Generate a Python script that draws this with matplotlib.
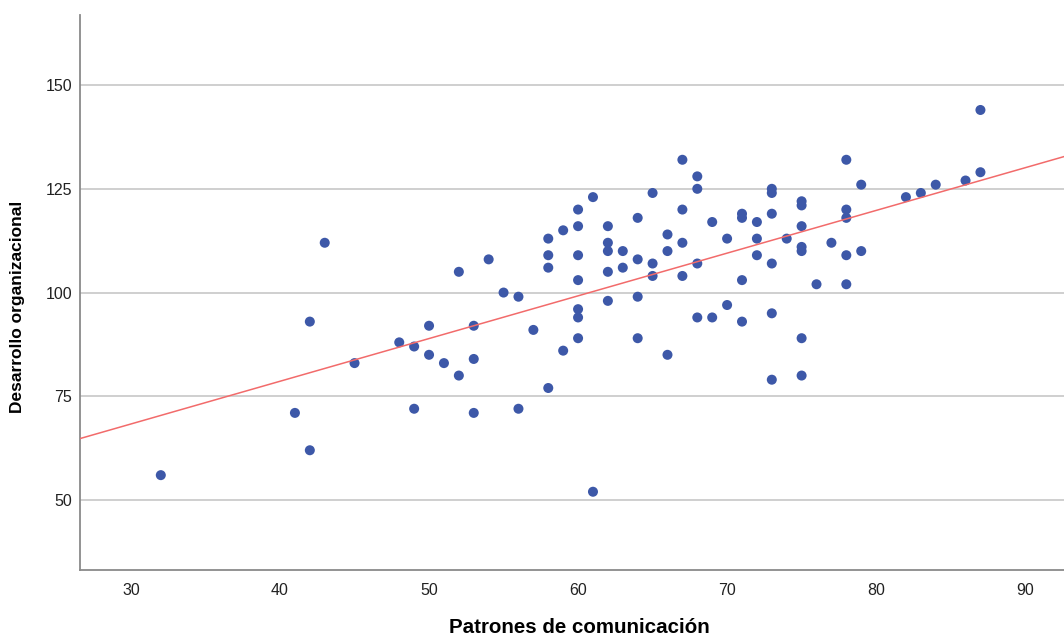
import matplotlib.pyplot as plt
import numpy as np

# Patrones de comunicación vs Desarrollo organizacional
patrones = [32, 41, 42, 42, 43, 45, 48, 49, 49, 50, 50, 51, 52, 52, 53, 53, 53,
            54, 55, 56, 56, 57, 58, 58, 58, 58, 59, 59,
            60, 60, 60, 60, 60, 60, 60, 61, 61,
            62, 62, 62, 62, 62, 63, 63, 64, 64, 64, 64, 65, 65, 65,
            66, 66, 66, 67, 67, 67, 67, 68, 68, 68, 68, 69, 69, 70, 70,
            71, 71, 71, 71, 72, 72, 72, 73, 73, 73, 73, 73, 73, 74,
            75, 75, 75, 75, 75, 75, 75, 76, 77, 78, 78, 78, 78, 78,
            79, 79, 82, 83, 84, 86, 87, 87]
desarrollo = [56, 71, 93, 62, 112, 83, 88, 87, 72, 92, 85, 83, 105, 80, 92, 84, 71,
              108, 100, 99, 72, 91, 113, 109, 106, 77, 115, 86,
              120, 116, 109, 103, 96, 94, 89, 123, 52,
              116, 112, 110, 105, 98, 110, 106, 118, 108, 99, 89, 124, 107, 104,
              114, 110, 85, 132, 120, 112, 104, 128, 125, 107, 94, 117, 94, 113, 97,
              119, 118, 103, 93, 117, 113, 109, 125, 124, 119, 107, 95, 79, 113,
              122, 121, 116, 111, 110, 89, 80, 102, 112, 132, 120, 118, 109, 102,
              126, 110, 123, 124, 126, 127, 144, 129]

x_ticks = [30, 40, 50, 60, 70, 80, 90]
y_ticks = [50, 75, 100, 125, 150]

plt.rcParams['font.family'] = ['Liberation Sans', 'DejaVu Sans']

fig = plt.figure(figsize=(10.64, 6.36), dpi=100)
ax = fig.add_axes([0.0755, 0.1035, 0.93, 0.873])

ax.set_xlim(26.6, 93.0)
ax.set_ylim(33.1, 166.9)

ax.yaxis.grid(True, color='#cccccc', linewidth=1.3)
ax.set_axisbelow(True)

ax.scatter(patrones, desarrollo, s=52, color='#3d58a8', edgecolors='none', zorder=3)

# linear fit across the full x range
b, a = np.polyfit(patrones, desarrollo, 1)
xs = np.array(ax.get_xlim())
ax.plot(xs, a + b * xs, color='#f26b6b', linewidth=1.1, zorder=4)

ax.set_xticks(x_ticks)
ax.set_yticks(y_ticks)
ax.tick_params(axis='both', length=0, labelsize=11.5, labelcolor='#222222')
ax.tick_params(axis='x', pad=9)
ax.tick_params(axis='y', pad=6)

for side in ['top', 'right']:
    ax.spines[side].set_visible(False)
for side in ['left', 'bottom']:
    ax.spines[side].set_color('#8a8a8a')
    ax.spines[side].set_linewidth(1.3)

ax.set_xlabel('Patrones de comunicación', fontsize=14.8, fontweight='bold')
ax.set_ylabel('Desarrollo organizacional', fontsize=12.5, fontweight='bold')
ax.xaxis.set_label_coords(0.5045, -0.087)
ax.yaxis.set_label_coords(-0.056, 0.475)

fig.savefig('out.png', dpi=100)
